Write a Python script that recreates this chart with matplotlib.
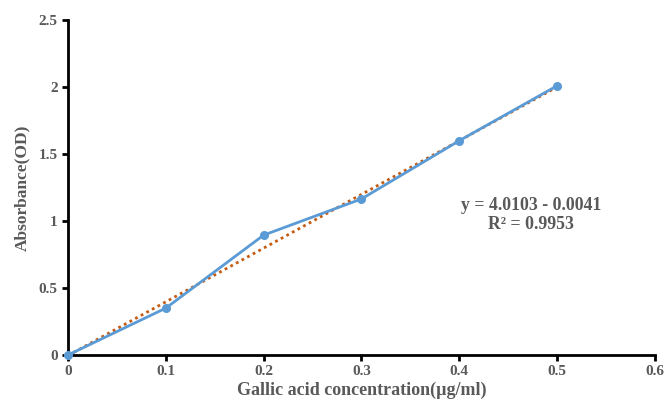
import matplotlib
matplotlib.use("Agg")
import matplotlib.pyplot as plt
import numpy as np

# Gallic acid standard curve
conc = [0.0, 0.1, 0.2, 0.3, 0.4, 0.5]
absorb = [0.0, 0.35, 0.895, 1.165, 1.6, 2.01]
slope, intercept = 4.0103, -0.0041
x_ticks = [0, 0.1, 0.2, 0.3, 0.4, 0.5, 0.6]
x_tick_labels = ["0", "0.1", "0.2", "0.3", "0.4", "0.5", "0.6"]
y_ticks = [0, 0.5, 1, 1.5, 2, 2.5]
y_tick_labels = ["0", "0.5", "1", "1.5", "2", "2.5"]

BLUE, ORANGE, GREY = "#5B9BD5", "#C55A11", "#595959"
plt.rcParams.update({"font.family": "Liberation Serif", "font.weight": "bold"})

fig = plt.figure(figsize=(6.64, 4.03), dpi=100)
ax = fig.add_axes([0.1024, 0.1191, 0.884, 0.831])

fit_x = np.array([conc[0], conc[-1]])
ax.plot(fit_x, slope * fit_x + intercept, ls=(0, (1, 1.3)), color=ORANGE, lw=2, zorder=2)
ax.plot(conc, absorb, "-o", color=BLUE, lw=2, markersize=5.5, zorder=3, clip_on=False)

ax.set_xlim(0, 0.6)
ax.set_ylim(0, 2.5)
ax.set_xticks(x_ticks)
ax.set_xticklabels(x_tick_labels)
ax.set_yticks(y_ticks)
ax.set_yticklabels(y_tick_labels)
for s in ["top", "right"]:
    ax.spines[s].set_visible(False)
for s in ["left", "bottom"]:
    ax.spines[s].set_linewidth(2)
ax.tick_params(width=2, length=4, colors="black", labelcolor=GREY, labelsize=11)
for lbl in ax.get_xticklabels() + ax.get_yticklabels():
    lbl.set_fontweight("bold")

ax.set_xlabel("Gallic acid concentration(µg/ml)", color=GREY, fontsize=13,
              fontweight="bold", labelpad=2)
ax.set_ylabel("Absorbance(OD)", color=GREY, fontsize=12.5, fontweight="bold", labelpad=6)

ax.text(0.789, 0.418, "y = 4.0103 - 0.0041\nR² = 0.9953", transform=ax.transAxes,
        ha="center", va="center", color=GREY, fontsize=12.8, fontweight="bold",
        linespacing=1.1)

fig.savefig("out.png", dpi=100)
